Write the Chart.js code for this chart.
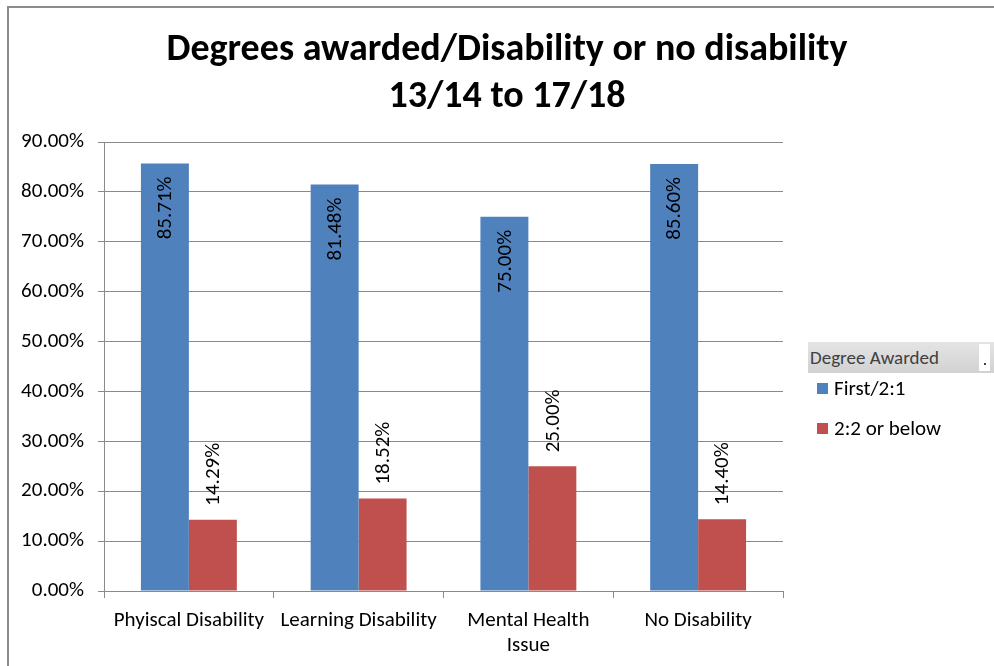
<!DOCTYPE html>
<html><head><meta charset="utf-8">
<script src="https://cdn.jsdelivr.net/npm/chart.js@4/dist/chart.umd.min.js"></script>
<style>
html,body{margin:0;padding:0;background:#fff;overflow:hidden;}
#wrap{position:relative;width:994px;height:666px;font-family:Carlito,Lato,"Liberation Sans",sans-serif;}
#frame{position:absolute;left:7px;top:6px;width:1100px;height:800px;border-left:2px solid #8c8c8c;border-top:2px solid #8c8c8c;box-sizing:border-box;}
#title{position:absolute;left:0;width:1014px;top:24px;text-align:center;font-weight:bold;font-size:38px;line-height:47px;color:#000;}
canvas{position:absolute;left:0;top:0;}
#lhead{position:absolute;left:808px;top:342px;width:186px;height:31px;background:linear-gradient(#e4e4e4,#d2d2d2);font-size:19px;color:#404040;line-height:31px;padding-left:2px;box-sizing:border-box;}
#lbtn{position:absolute;left:979px;top:344px;width:11px;height:27px;background:#fff;}
#lbtn:after{content:"";position:absolute;left:5px;top:19px;width:2px;height:2px;background:#404040;}
.li{position:absolute;left:817px;font-size:21px;color:#000;line-height:24px;}
.sw{display:inline-block;width:11px;height:11px;margin-right:6px;vertical-align:1px;}
</style></head><body>
<div id="wrap">
<div id="frame"></div>
<canvas id="c" width="994" height="666"></canvas>
<div id="title">Degrees awarded/Disability or no disability<br>13/14 to 17/18</div>
<div id="lhead">Degree Awarded</div>
<div id="lbtn"></div>
<div class="li" style="top:376px"><span class="sw" style="background:#4F81BD"></span>First/2:1</div>
<div class="li" style="top:416px"><span class="sw" style="background:#C0504D"></span>2:2 or below</div>
</div>
<script>
const categories = [["Phyiscal Disability"], ["Learning Disability"], ["Mental Health", "Issue"], ["No Disability"]];
const seriesNames = ["First/2:1", "2:2 or below"];
const firstValues = [0.8571, 0.8148, 0.75, 0.856];
const lowerValues = [0.1429, 0.1852, 0.25, 0.144];
const yTicks = [0, 0.1, 0.2, 0.3, 0.4, 0.5, 0.6, 0.7, 0.8, 0.9];
const colors = ["#4F81BD", "#C0504D"];
const FONT = "Carlito, Lato, 'Liberation Sans', sans-serif";

const labelPlugin = {
  id: 'vlabels',
  afterDatasetsDraw(chart) {
    const ctx = chart.ctx;
    ctx.save();
    ctx.font = "21px " + FONT;
    ctx.fillStyle = "#000";
    chart.data.datasets.forEach((ds, di) => {
      const meta = chart.getDatasetMeta(di);
      meta.data.forEach((bar, i) => {
        const txt = (ds.data[i] * 100).toFixed(2) + "%";
        ctx.save();
        ctx.translate(bar.x, bar.y);
        ctx.rotate(-Math.PI / 2);
        ctx.textBaseline = "middle";
        if (di === 0) {
          ctx.textAlign = "right";
          ctx.fillText(txt, -13, 1);
        } else {
          ctx.textAlign = "left";
          ctx.fillText(txt, 14, 1);
        }
        ctx.restore();
      });
    });
    ctx.restore();
  }
};

new Chart(document.getElementById('c'), {
  type: 'bar',
  data: {
    labels: categories,
    datasets: [
      { label: seriesNames[0], data: firstValues, backgroundColor: colors[0] },
      { label: seriesNames[1], data: lowerValues, backgroundColor: colors[1] }
    ]
  },
  options: {
    responsive: false,
    animation: false,
    devicePixelRatio: 1,
    layout: { padding: { left: 0, top: 142, right: 211, bottom: 0 } },
    plugins: { legend: { display: false }, tooltip: { enabled: false }, title: { display: false } },
    datasets: { bar: { categoryPercentage: 0.565, barPercentage: 1.0 } },
    scales: {
      x: {
        afterFit(s) { s.height = 75; },
        grid: { drawOnChartArea: false, drawTicks: true, tickLength: 7, color: "#8a8a8a", offset: true },
        border: { color: "#8a8a8a", width: 1 },
        ticks: { color: "#000", font: { family: FONT, size: 21, lineHeight: 1.2 }, padding: 10, maxRotation: 0, autoSkip: false }
      },
      y: {
        min: 0, max: 0.9,
        afterFit(s) { s.width = 104; },
        afterBuildTicks(s) { s.ticks = yTicks.map(v => ({ value: v })); },
        grid: { color: "#8a8a8a", tickLength: 6, lineWidth: 1 },
        border: { color: "#8a8a8a", width: 1 },
        ticks: {
          color: "#000", font: { family: FONT, size: 21 }, padding: 14,
          callback: v => (v * 100).toFixed(2) + "%"
        }
      }
    }
  },
  plugins: [labelPlugin]
});
</script>
</body></html>
